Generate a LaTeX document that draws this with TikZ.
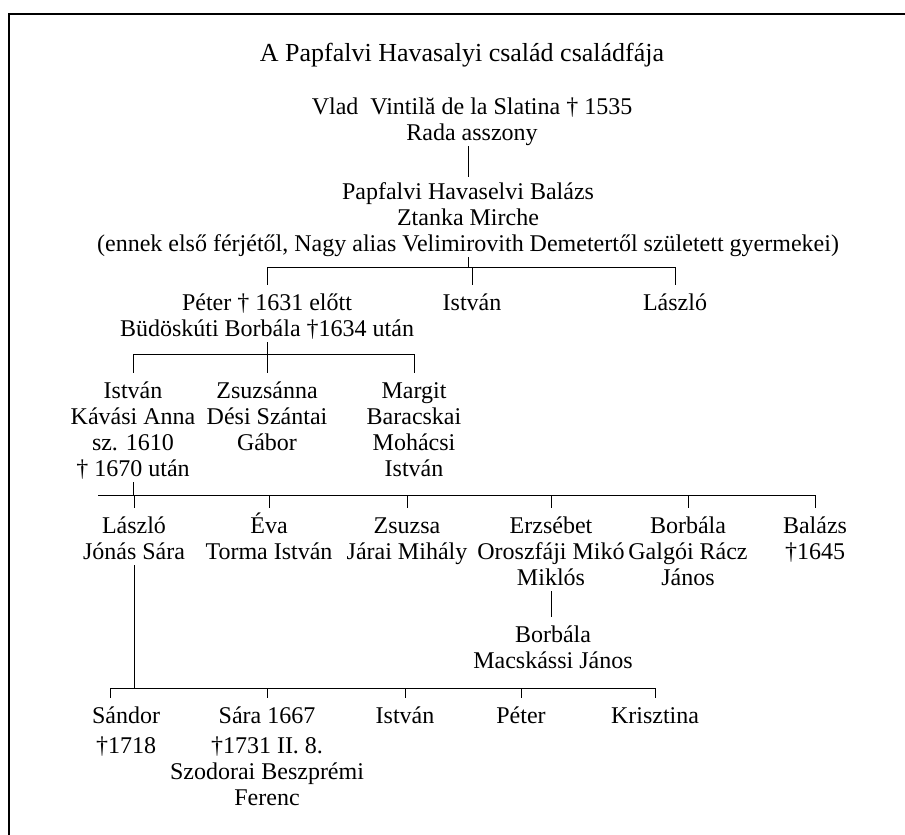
\documentclass[tikz,border=0pt]{standalone}
\usepackage{fontspec}
\setmainfont{Liberation Serif}
\newcommand\hi{\vrule height 22pt depth 0pt width 0pt}
\newcommand\lo{\vrule height 0pt depth 6pt width 0pt}

\begin{document}
\begin{tikzpicture}[x=1pt,y=-1pt,
  person/.style={anchor=north,align=center,inner sep=0pt,
    font=\fontsize{24pt}{26pt}\selectfont},
  kin/.style={line width=0.9pt},
  drop/.style={kin,shorten >=3pt}]
  \useasboundingbox (0,0) rectangle (905,835);
  \draw[line width=1.2pt] (905,14) -- (9,14) -- (9,835);

  \node[font=\fontsize{26pt}{28pt}\selectfont] (title) at (462,55)
    {A Papfalvi Havasalyi család családfája};
  \node[person] (vlad) at (472,92) {\hi Vlad\ \ Vintilă de la Slatina † 1535\\Rada asszony\lo};
  \node[person] (balazs1) at (468,177) {\hi Papfalvi Havaselvi Balázs\\Ztanka Mirche\\(ennek első férjétől, Nagy alias Velimirovith Demetertől született gyermekei)\lo};
  \draw[kin] (balazs1.north |- vlad.south) -- (balazs1.north);

  % first generation
  \coordinate (bar1) at (0,267);
  \node[person] (peter1) at (267,288) {\hi Péter † 1631 előtt\\Büdöskúti Borbála †1634 után\lo};
  \node[person] (istvan1) at (472,288) {\hi István\lo};
  \node[person] (laszlo1) at (675,288) {\hi László\lo};
  \draw[kin] (balazs1.south) -- (balazs1.south |- bar1);
  \draw[kin] (peter1.north |- bar1) -- (laszlo1.north |- bar1);
  \foreach \c in {peter1,istvan1,laszlo1}
    \draw[drop] (\c.north |- bar1) -- (\c.north);

  % children of Peter
  \coordinate (bar2) at (0,354);
  \node[person] (istvan2) at (133,376) {\hi István\\Kávási Anna\\sz. 1610\\† 1670 után\lo};
  \node[person] (zsuzsanna) at (267,376) {\hi Zsuzsánna\\Dési Szántai\\Gábor\lo};
  \node[person] (margit) at (414,376) {\hi Margit\\Baracskai\\Mohácsi\\István\lo};
  \draw[kin] (peter1.south) -- (peter1.south |- bar2);
  \draw[kin] (istvan2.north |- bar2) -- (margit.north |- bar2);
  \foreach \c in {istvan2,zsuzsanna,margit}
    \draw[drop] (\c.north |- bar2) -- (\c.north);

  % children of Istvan
  \coordinate (bar3) at (98,495);
  \node[person] (laszlo2) at (134,511) {\hi László\\Jónás Sára\lo};
  \node[person] (eva) at (269,511) {\hi Éva\\Torma István\lo};
  \node[person] (zsuzsa) at (407,511) {\hi Zsuzsa\\Járai Mihály\lo};
  \node[person] (erzsebet) at (551,511) {\hi Erzsébet\\Oroszfáji Mikó\\Miklós\lo};
  \node[person] (borbala1) at (688,511) {\hi Borbála\\Galgói Rácz\\János\lo};
  \node[person] (balazs2) at (815,511) {\hi Balázs\\†1645\lo};
  \draw[kin] (istvan2.south) -- (istvan2.south |- bar3);
  \draw[kin] (bar3) -- (balazs2.north |- bar3);
  \foreach \c in {laszlo2,eva,zsuzsa,erzsebet,borbala1,balazs2}
    \draw[drop] (\c.north |- bar3) -- (\c.north);

  \node[person] (borbala2) at (553,620) {\hi Borbála\\Macskássi János\lo};
  \draw[drop] (erzsebet.south) -- (erzsebet.south |- borbala2.north);

  % children of Laszlo
  \coordinate (bar4) at (0,688);
  \node[person] (sandor) at (126,701) {\hi Sándor\\[4pt]†1718\lo};
  \node[person] (sara) at (267,701) {\hi Sára 1667\\[4pt]†1731 II. 8.\\Szodorai Beszprémi\\Ferenc\lo};
  \node[person] (istvan3) at (405,701) {\hi István\lo};
  \node[person] (peter2) at (521,701) {\hi Péter\lo};
  \node[person] (krisztina) at (655,701) {\hi Krisztina\lo};
  \coordinate (sdrop) at ([xshift=-16pt]sandor.north);
  \draw[kin] (laszlo2.south) -- (laszlo2.south |- bar4);
  \draw[kin] (sdrop |- bar4) -- (krisztina.north |- bar4);
  \draw[drop] (sdrop |- bar4) -- (sdrop);
  \foreach \c in {sara,istvan3,peter2,krisztina}
    \draw[drop] (\c.north |- bar4) -- (\c.north);
\end{tikzpicture}
\end{document}
